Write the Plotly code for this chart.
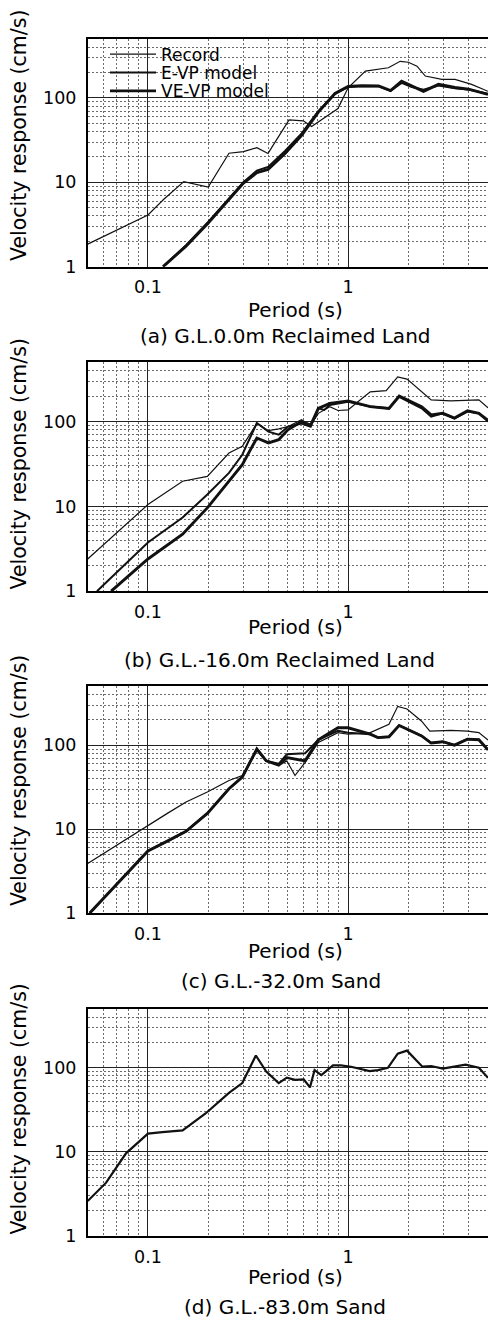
import math
import plotly.graph_objects as go

FONT = "DejaVu Sans"

# ---------------- data (period in s, velocity response in cm/s) ----------------
# (a) G.L.0.0m Reclaimed Land
a_rec_T = [0.05, 0.1, 0.12, 0.151, 0.2, 0.254, 0.30, 0.35, 0.398, 0.507, 0.597, 0.657, 0.89, 1.0,
           1.22, 1.59, 1.82, 2.0, 2.21, 2.43, 2.94, 3.42, 4.14, 5.0]
a_rec_V = [1.85, 4.1, 6.3, 10.2, 8.8, 22.1, 23.1, 25.7, 22.0, 55, 53.6, 46, 75, 132,
           208, 228, 272, 265, 238, 182, 166, 166, 145, 120]
a_mod_T = [0.119, 0.155, 0.2, 0.254, 0.30, 0.35, 0.398, 0.484, 0.586, 0.71, 0.86, 1.0,
           1.17, 1.42, 1.63, 1.85, 2.08, 2.38, 2.83, 3.42, 4.0, 5.0]
a_evp_V = [1.0, 1.8, 3.4, 6.4, 10.0, 13.8, 15.2, 23.5, 38, 70, 112, 135,
           138, 137, 121, 151, 135, 125, 140, 130, 126, 112]
a_vevp_V = [1.0, 1.75, 3.3, 6.2, 9.8, 13.0, 14.2, 22.0, 36, 68, 113, 137,
            140, 139, 122, 158, 138, 120, 145, 133, 127, 110]

# (b) G.L.-16.0m Reclaimed Land
b_rec_T = [0.05, 0.1, 0.149, 0.198, 0.254, 0.296, 0.35, 0.40, 0.45, 0.5, 0.585, 0.65, 0.71,
           0.81, 0.89, 1.0, 1.12, 1.29, 1.55, 1.77, 1.97, 2.33, 2.6, 3.26, 4.5, 5.0]
b_rec_V = [2.4, 10.5, 19.8, 22.6, 42.5, 51, 95, 78, 82, 87, 105, 90, 125,
           150, 135, 137, 171, 224, 231, 336, 316, 224, 180, 175, 180, 145]
b_mod_T = [0.0556, 0.1, 0.149, 0.198, 0.254, 0.296, 0.35, 0.40, 0.45, 0.5, 0.585, 0.65, 0.71,
           0.76, 0.81, 1.0, 1.29, 1.6, 1.8, 2.33, 2.6, 2.97, 3.4, 3.95, 4.5, 5.0]
b_evp_V = [1.0, 3.75, 7.4, 13.8, 24.8, 40.6, 96, 76, 70, 87, 95, 87, 143,
           137, 157, 171, 150, 143, 196, 143, 114, 125, 109, 131, 125, 100]
b_vevp_T = [0.0655, 0.1, 0.149, 0.198, 0.254, 0.296, 0.35, 0.40, 0.45, 0.5, 0.585, 0.65, 0.71,
            0.81, 1.0, 1.29, 1.6, 1.8, 2.33, 2.6, 2.97, 3.4, 3.95, 4.5, 5.0]
b_vevp_V = [1.0, 2.4, 4.7, 9.6, 19.8, 31, 64, 56, 61, 80, 100, 91, 143,
            164, 175, 150, 143, 200, 150, 120, 125, 110, 134, 125, 103]

# (c) G.L.-32.0m Sand
c_rec_T = [0.05, 0.1, 0.125, 0.155, 0.198, 0.254, 0.296, 0.35, 0.39, 0.45, 0.494, 0.543, 0.61,
           0.71, 0.89, 1.0, 1.29, 1.6, 1.77, 1.97, 2.33, 2.56, 3.26, 3.95, 4.5, 5.0]
c_rec_V = [3.9, 11.2, 15.4, 21, 27.7, 38, 43.5, 86, 65, 57, 65, 43.5, 62.5,
           108, 141, 135, 141, 177, 290, 270, 193, 147, 150, 147, 141, 115]
c_mod_T = [0.0512, 0.072, 0.1, 0.125, 0.155, 0.198, 0.254, 0.296, 0.35, 0.39, 0.45, 0.494, 0.61,
           0.71, 0.89, 1.0, 1.29, 1.41, 1.6, 1.8, 2.33, 2.6, 2.97, 3.4, 3.95, 4.5, 5.0]
c_evp_V = [1.0, 2.4, 5.5, 7.2, 9.4, 15.4, 30.3, 41.7, 90, 65, 60, 78, 80,
           116, 148, 141, 135, 123, 126, 172, 129, 106, 110, 100, 118, 116, 88]
c_vevp_V = [1.0, 2.4, 5.5, 7.2, 9.4, 15.4, 30.3, 41.7, 90, 65, 58, 71, 65,
            116, 161, 161, 135, 123, 126, 172, 129, 106, 110, 100, 118, 116, 88]

# (d) G.L.-83.0m Sand
d_T = [0.05, 0.0618, 0.0777, 0.0906, 0.1, 0.118, 0.149, 0.194, 0.254, 0.296, 0.346, 0.39, 0.45,
       0.494, 0.543, 0.6, 0.645, 0.68, 0.735, 0.84, 0.92, 1.035, 1.28, 1.41, 1.58, 1.77, 1.97,
       2.35, 2.6, 2.97, 3.4, 3.86, 4.5, 5.0]
d_V = [2.6, 4.3, 9.6, 13.2, 16.5, 17.2, 18.0, 28.6, 50.3, 65.8, 140, 90, 65.8,
       76.5, 72, 73, 58.5, 94, 82, 107, 107, 103, 91.5, 94, 100, 147, 160,
       103, 105, 98, 103, 109, 100, 76]

captions = ["(a) G.L.0.0m Reclaimed Land", "(b) G.L.-16.0m Reclaimed Land",
            "(c) G.L.-32.0m Sand", "(d) G.L.-83.0m Sand"]
series_names = ["Record", "E-VP model", "VE-VP model"]
x_title = "Period (s)"
y_title = "Velocity response (cm/s)"

# ---------------- layout geometry (pixels) ----------------
W, H = 488, 1327
plot_top = [39.3, 365.0, 691.7, 1016.7]
plot_bot = [268.7, 595.7, 920.0, 1245.3]
xtitle_y = [312, 631.7, 958.3, 1286.7]
ytitle_y = [137, 468, 787, 1118]
cap_xy = [(285.5, 339), (279, 665), (280.5, 988), (285, 1316.7)]
x_left = 87.7

def py(v):
    return 1 - v / H

def px(v):
    return v / W

fig = go.Figure()
INK = "#111111"
widths = [1.2, 2.0, 2.9]

panels = [
    [(a_rec_T, a_rec_V), (a_mod_T, a_evp_V), (a_mod_T, a_vevp_V)],
    [(b_rec_T, b_rec_V), (b_mod_T, b_evp_V), (b_vevp_T, b_vevp_V)],
    [(c_rec_T, c_rec_V), (c_mod_T, c_evp_V), (c_mod_T, c_vevp_V)],
    [(d_T, d_V)],
]

legend_ids = ["legend", "legend2", "legend3"]
for i, series in enumerate(panels):
    sfx = "" if i == 0 else str(i + 1)
    for j, (T, V) in enumerate(series):
        w = widths[j] if i < 3 else 2.2
        fig.add_trace(go.Scatter(
            x=T, y=V, mode="lines", name=series_names[j],
            line=dict(color=INK, width=w),
            xaxis="x" + sfx, yaxis="y" + sfx,
            showlegend=(i == 0), legend=legend_ids[j],
        ))

layout = dict(
    width=W, height=H, margin=dict(l=0, r=0, t=0, b=0),
    paper_bgcolor="white", plot_bgcolor="white",
    font=dict(family=FONT, color="black", size=17),
)

for i in range(4):
    sfx = "" if i == 0 else str(i + 1)
    common_minor = dict(dtick="D1", showgrid=True, gridcolor="#6a6a6a",
                        griddash="2px,2px", gridwidth=1, ticks="")
    layout["xaxis" + sfx] = dict(
        type="log", range=[math.log10(0.05), math.log10(5)],
        domain=[px(x_left), 1.0], anchor="y" + sfx,
        showline=True, mirror=True, linecolor="black", linewidth=1.5,
        showgrid=True, gridcolor="#222222", gridwidth=1.2,
        tickmode="linear", tick0=0, dtick=1, ticks="",
        tickfont=dict(family=FONT, size=17.5, color="black"),
        ticklabelstandoff=4, zeroline=False, minor=common_minor,
    )
    layout["yaxis" + sfx] = dict(
        type="log", range=[0, math.log10(500)],
        domain=[py(plot_bot[i]), py(plot_top[i])], anchor="x" + sfx,
        showline=True, mirror=False, linecolor="black", linewidth=1.5,
        showgrid=True, gridcolor="#222222", gridwidth=1.2,
        tickmode="linear", tick0=0, dtick=1, ticks="",
        tickfont=dict(family=FONT, size=17.5, color="black"),
        ticklabelstandoff=6, zeroline=False, minor=common_minor,
    )

legend_rows = [55, 73.5, 92]
for j, lid in enumerate(legend_ids):
    layout[lid] = dict(
        x=px(105), y=py(legend_rows[j]), xanchor="left", yanchor="middle",
        bgcolor="rgba(0,0,0,0)", borderwidth=0, itemwidth=46,
        font=dict(family=FONT, size=17, color="black"),
        itemclick=False, itemdoubleclick=False,
    )

annotations = []
for i in range(4):
    annotations.append(dict(
        text=y_title, textangle=-90, xref="paper", yref="paper",
        x=px(19), y=py(ytitle_y[i]), xanchor="center", yanchor="middle",
        showarrow=False, font=dict(family=FONT, size=20.5, color="black")))
    annotations.append(dict(
        text=x_title, xref="paper", yref="paper",
        x=px(295), y=py(xtitle_y[i]), xanchor="center", yanchor="middle",
        showarrow=False, font=dict(family=FONT, size=20, color="black")))
    cx, cy = cap_xy[i]
    annotations.append(dict(
        text=captions[i], xref="paper", yref="paper",
        x=px(cx), y=py(cy), xanchor="center", yanchor="middle",
        showarrow=False, font=dict(family=FONT, size=20, color="black")))
layout["annotations"] = annotations

fig.update_layout(**layout)
fig.write_html("out.html")
